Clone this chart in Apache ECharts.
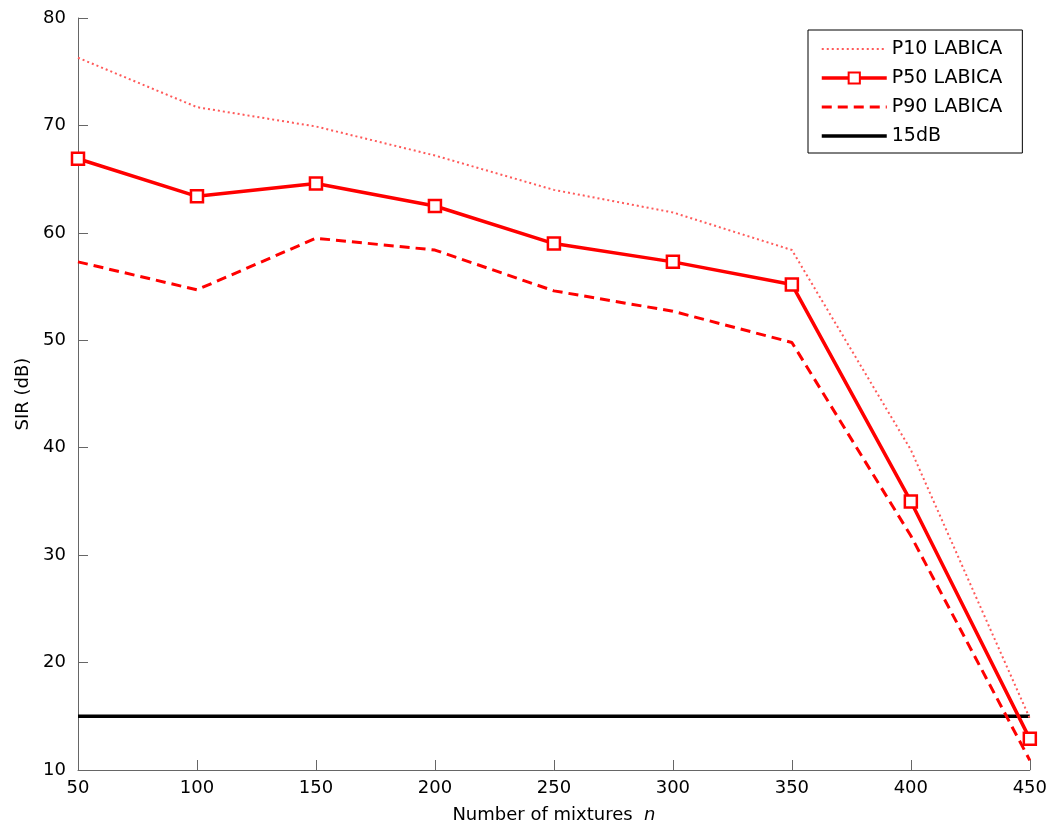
<!DOCTYPE html>
<html>
<head>
<meta charset="utf-8">
<script src="https://cdn.jsdelivr.net/npm/echarts@6/dist/echarts.min.js"></script>
<style>
  html, body { margin: 0; padding: 0; background: #fff; }
  #main { width: 1050px; height: 829px; }
</style>
</head>
<body>
<div id="main"></div>
<script>
// number of mixtures
var mixtures = [50, 100, 150, 200, 250, 300, 350, 400, 450];
// SIR percentiles (dB)
var p10 = [76.3, 71.7, 69.9, 67.2, 64.0, 61.9, 58.4, 39.8, 14.8];
var p50 = [66.9, 63.4, 64.6, 62.5, 59.0, 57.3, 55.2, 35.0, 12.9];
var p90 = [57.3, 54.7, 59.5, 58.4, 54.6, 52.7, 49.8, 31.8, 10.9];
var threshold = 15;

function pairs(xs, ys) {
  return xs.map(function (x, i) { return [x, ys[i]]; });
}

var myChart = echarts.init(document.getElementById('main'));

var font = 'DejaVu Sans, Liberation Sans, sans-serif';

var option = {
  animation: false,
  grid: { left: 78, right: 19, top: 18, bottom: 58 },
  legend: {
    orient: 'vertical',
    left: 808,
    top: 30,
    padding: [8, 20, 6, 12],
    borderColor: '#000',
    borderWidth: 1,
    itemWidth: 65,
    itemHeight: 14,
    itemGap: 7,
    textStyle: { fontFamily: font, fontSize: 19, color: '#000', lineHeight: 22 },
    data: [
      { name: 'P10 LABICA', itemStyle: { opacity: 0 }, lineStyle: { width: 2 } },
      { name: 'P50 LABICA', lineStyle: { width: 3.5 } },
      { name: 'P90 LABICA', itemStyle: { opacity: 0 }, lineStyle: { width: 3 } },
      { name: '15dB', itemStyle: { opacity: 0 }, lineStyle: { width: 3.5 } }
    ]
  },
  xAxis: {
    type: 'value',
    min: 50,
    max: 450,
    interval: 50,
    name: 'Number of mixtures  {i|n}',
    nameLocation: 'middle',
    nameGap: 36,
    nameTextStyle: {
      fontFamily: font, fontSize: 18, color: '#000',
      rich: { i: { fontFamily: font, fontSize: 18, fontStyle: 'italic', color: '#000' } }
    },
    axisLine: { lineStyle: { color: '#666', width: 1 } },
    axisTick: { inside: true, length: 10, lineStyle: { color: '#666' } },
    axisLabel: { fontFamily: font, fontSize: 18, color: '#000', margin: 9 },
    splitLine: { show: false }
  },
  yAxis: {
    type: 'value',
    min: 10,
    max: 80,
    interval: 10,
    name: 'SIR (dB)',
    nameLocation: 'middle',
    nameGap: 44,
    nameTextStyle: { fontFamily: font, fontSize: 18, color: '#000' },
    axisLine: { show: true, lineStyle: { color: '#666', width: 1 } },
    axisTick: { show: true, inside: true, length: 10, lineStyle: { color: '#666' } },
    axisLabel: { fontFamily: font, fontSize: 18, color: '#000', margin: 12 },
    splitLine: { show: false }
  },
  series: [
    {
      name: 'P10 LABICA',
      type: 'line',
      data: pairs(mixtures, p10),
      symbol: 'none',
      itemStyle: { color: '#ff5a5a' },
      lineStyle: { color: '#ff5a5a', width: 2, type: [2, 3] },
      z: 2
    },
    {
      name: 'P50 LABICA',
      type: 'line',
      data: pairs(mixtures, p50),
      symbol: 'rect',
      symbolSize: 12,
      itemStyle: { color: '#fff', borderColor: '#ff0000', borderWidth: 2.5 },
      lineStyle: { color: '#ff0000', width: 3.5 },
      z: 4
    },
    {
      name: 'P90 LABICA',
      type: 'line',
      data: pairs(mixtures, p90),
      symbol: 'none',
      itemStyle: { color: '#ff0000' },
      lineStyle: { color: '#ff0000', width: 3, type: [10, 6] },
      z: 3
    },
    {
      name: '15dB',
      type: 'line',
      data: [[mixtures[0], threshold], [mixtures[mixtures.length - 1], threshold]],
      symbol: 'none',
      itemStyle: { color: '#000' },
      lineStyle: { color: '#000', width: 3.5 },
      z: 1
    }
  ]
};

myChart.setOption(option);
</script>
</body>
</html>
